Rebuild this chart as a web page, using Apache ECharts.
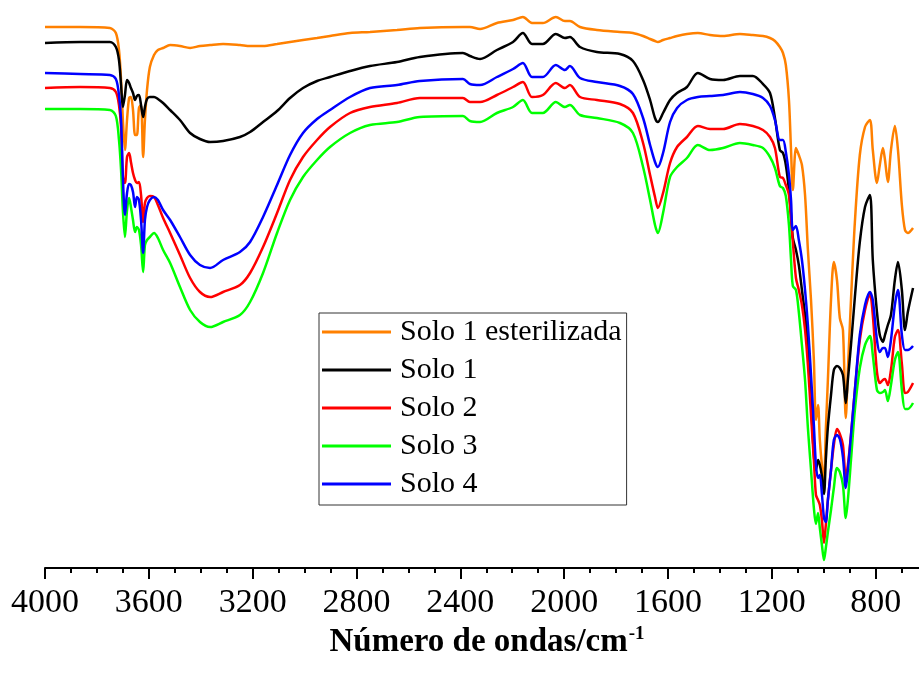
<!DOCTYPE html>
<html>
<head>
<meta charset="utf-8">
<title>FTIR Solos</title>
<script src="https://cdn.jsdelivr.net/npm/echarts@6/dist/echarts.min.js"></script>
<style>
  html, body { margin: 0; padding: 0; background: #fff; }
  #chartDIV { width: 919px; height: 674px; }
</style>
</head>
<body>
<div id="chartDIV"></div>
<script>
// número de ondas (cm-1), comum a todas as curvas
const wavenumbers = [
  4000, 3865, 3750, 3727, 3715, 3707, 3700, 3692, 3684, 3676,
  3669, 3661, 3653, 3646, 3638, 3630, 3622, 3615, 3607, 3596,
  3580, 3565, 3545, 3518, 3480, 3441, 3403, 3364, 3314, 3249,
  3210, 3160, 3106, 3056, 3006, 2952, 2902, 2825, 2748, 2644,
  2556, 2390, 2363, 2324, 2259, 2197, 2159, 2124, 2082, 2032,
  1997, 1978, 1939, 1874, 1785, 1735, 1696, 1669, 1650, 1639,
  1619, 1592, 1565, 1527, 1485, 1438, 1388, 1323, 1273, 1234,
  1207, 1188, 1169, 1157, 1146, 1134, 1126, 1119, 1107, 1096,
  1084, 1072, 1061, 1049, 1038, 1030, 1022, 1015, 1007, 999,
  992, 984, 972, 961, 949, 938, 926, 915, 907, 895,
  880, 861, 841, 822, 811, 795, 784, 772, 764, 753,
  741, 726, 714, 699, 687, 676, 656
];

// transmitância (u.a., curvas deslocadas)
const solo1Esterilizada = [
  108.2, 108.2, 108.0, 107.0, 103.6, 97.6, 89.6, 83.6, 89.6, 94.0,
  94.2, 91.6, 86.6, 86.6, 92.0, 92.6, 82.2, 89.6, 95.6, 100.2,
  102.6, 103.6, 104.0, 104.6, 104.4, 104.0, 104.4, 104.6, 104.8, 104.6,
  104.4, 104.4, 104.8, 105.2, 105.6, 106.0, 106.4, 107.0, 107.2, 107.6,
  108.0, 108.2, 108.2, 107.8, 109.0, 109.6, 110.2, 109.0, 109.0, 110.2,
  109.4, 109.4, 108.2, 107.6, 107.2, 107.0, 106.4, 105.8, 105.4, 105.2,
  105.6, 106.0, 106.4, 106.8, 107.0, 106.6, 106.4, 106.8, 106.6, 106.4,
  106.0, 105.4, 104.2, 103.0, 100.6, 93.6, 83.6, 75.6, 84.0, 82.6,
  80.6, 74.6, 63.6, 53.6, 41.6, 29.6, 32.6, 25.6, 20.6, 17.6,
  27.6, 37.6, 53.6, 61.2, 57.6, 50.0, 47.6, 30.0, 39.6, 53.6,
  69.2, 82.6, 88.2, 89.6, 83.6, 77.0, 80.6, 84.0, 81.6, 77.2,
  83.6, 88.4, 83.6, 72.6, 67.6, 67.0, 68.0
];
const solo1 = [
  105.0, 105.2, 105.2, 104.2, 101.6, 96.6, 92.2, 94.6, 97.6, 97.0,
  96.0, 95.0, 93.6, 94.4, 94.6, 92.6, 90.2, 92.2, 93.8, 94.2,
  94.2, 93.8, 93.0, 91.6, 89.6, 87.0, 85.8, 85.2, 85.4, 86.2,
  87.2, 89.2, 91.4, 94.0, 96.0, 97.4, 98.2, 99.4, 100.4, 101.2,
  102.2, 103.0, 102.4, 101.8, 103.6, 105.2, 107.0, 104.8, 104.8, 106.8,
  106.0, 106.2, 104.2, 103.2, 102.8, 101.4, 97.6, 93.6, 90.0, 89.2,
  91.0, 93.6, 95.0, 96.2, 99.0, 97.8, 97.6, 98.4, 98.4, 96.8,
  95.0, 90.0, 83.6, 83.0, 80.6, 75.6, 70.6, 66.0, 63.6, 60.6,
  55.6, 50.6, 44.6, 33.6, 22.6, 19.6, 21.6, 20.6, 18.4, 14.8,
  21.6, 28.2, 34.6, 39.6, 40.4, 40.0, 38.6, 33.0, 37.6, 44.6,
  54.2, 65.2, 72.2, 74.6, 61.6, 51.2, 46.6, 45.2, 46.6, 48.6,
  50.6, 57.6, 61.2, 55.6, 47.6, 51.2, 56.0
];
const solo2 = [
  96.0, 96.2, 96.0, 95.2, 92.6, 88.2, 78.2, 77.0, 82.2, 83.0,
  81.2, 79.0, 77.6, 77.0, 77.2, 74.6, 69.2, 73.0, 74.0, 74.4,
  74.2, 72.6, 70.0, 67.0, 62.6, 58.0, 55.2, 54.2, 55.2, 56.6,
  59.0, 64.2, 71.0, 77.6, 82.2, 85.6, 88.2, 91.0, 92.2, 93.0,
  94.0, 94.0, 93.2, 93.2, 94.6, 96.2, 97.2, 94.2, 94.6, 97.0,
  96.0, 96.6, 94.2, 93.6, 92.8, 91.0, 85.0, 78.6, 74.2, 72.0,
  75.0, 81.0, 84.2, 86.2, 88.4, 87.8, 87.8, 88.8, 88.4, 87.6,
  86.2, 84.0, 78.2, 78.0, 76.6, 74.6, 69.6, 65.2, 58.0, 55.6,
  52.6, 47.6, 40.6, 30.6, 21.6, 14.6, 13.6, 12.6, 9.6, 5.0,
  8.6, 13.6, 19.6, 24.6, 27.8, 26.8, 24.6, 18.0, 20.6, 26.6,
  35.6, 45.6, 51.6, 54.8, 50.6, 39.2, 37.0, 37.6, 37.8, 36.6,
  39.6, 46.2, 47.6, 40.8, 35.0, 35.2, 37.0
];
const solo3 = [
  91.8, 91.8, 91.6, 90.4, 85.6, 79.6, 71.6, 66.2, 71.6, 74.0,
  72.2, 69.6, 67.2, 68.2, 67.6, 64.6, 59.2, 64.6, 65.6, 66.2,
  67.0, 66.0, 63.6, 61.0, 56.2, 51.6, 49.2, 48.2, 49.2, 50.6,
  53.2, 59.0, 67.0, 73.6, 78.2, 81.6, 84.2, 87.0, 88.6, 89.2,
  90.2, 90.4, 89.4, 89.2, 91.0, 92.2, 93.6, 91.0, 91.0, 93.2,
  92.2, 92.6, 90.6, 90.0, 89.0, 87.0, 80.2, 73.6, 68.6, 67.0,
  71.0, 78.2, 80.2, 82.0, 84.6, 83.6, 84.0, 85.0, 84.6, 84.0,
  82.2, 80.0, 76.4, 76.0, 74.4, 68.6, 61.6, 56.4, 55.6, 51.2,
  44.6, 37.6, 28.0, 19.6, 12.0, 8.8, 11.0, 8.0, 4.6, 1.6,
  4.0, 7.2, 11.6, 16.0, 20.0, 19.2, 16.6, 10.0, 13.6, 21.6,
  31.6, 40.0, 44.6, 46.4, 42.6, 35.6, 35.0, 35.2, 35.6, 33.4,
  36.6, 41.6, 43.2, 35.6, 31.8, 31.8, 33.0
];
const solo4 = [
  99.0, 98.8, 98.6, 97.8, 94.6, 89.6, 78.2, 70.6, 75.0, 76.8,
  76.6, 75.2, 72.2, 74.2, 73.6, 69.6, 63.0, 69.6, 72.2, 73.6,
  74.2, 73.6, 71.6, 69.6, 66.2, 62.6, 60.6, 60.0, 61.6, 63.2,
  65.2, 70.2, 76.6, 82.6, 87.0, 89.8, 91.6, 94.2, 96.0, 96.6,
  97.4, 97.8, 96.8, 96.6, 98.2, 99.8, 101.0, 98.2, 98.2, 100.6,
  99.6, 100.4, 98.0, 97.2, 96.4, 94.8, 90.0, 84.6, 81.2, 80.2,
  83.0, 89.2, 92.0, 93.6, 94.2, 94.4, 94.6, 95.2, 94.8, 94.0,
  92.4, 89.6, 85.6, 85.6, 83.2, 78.6, 73.6, 67.6, 68.4, 65.6,
  61.6, 55.6, 48.6, 38.6, 28.6, 20.6, 18.0, 18.6, 14.8, 10.0,
  9.2, 13.6, 19.6, 25.6, 26.6, 25.8, 22.2, 16.0, 19.6, 26.6,
  35.6, 46.6, 52.6, 55.2, 53.6, 45.6, 43.2, 44.0, 44.0, 42.2,
  45.6, 52.6, 55.6, 46.6, 43.6, 43.6, 44.4
];

const seriesNames = ['Solo 1 esterilizada', 'Solo 1', 'Solo 2', 'Solo 3', 'Solo 4'];
const seriesColors = ['#FF8000', '#000000', '#FF0000', '#00FF00', '#0000FF'];
const seriesValues = [solo1Esterilizada, solo1, solo2, solo3, solo4];

// marcas do eixo x
const majorTicks = [4000, 3600, 3200, 2800, 2400, 2000, 1600, 1200, 800];
const minorTicks = [];
for (let w = 4000; w >= 700; w -= 100) minorTicks.push(w);

const serif = '"Liberation Serif", "Times New Roman", serif';

const chart = echarts.init(document.getElementById('chartDIV'));

const option = {
  animation: false,
  backgroundColor: '#fff',
  grid: { left: 45, right: 0, top: 8, bottom: 106 },
  legend: {
    orient: 'vertical',
    left: 319,
    top: 313,
    data: seriesNames,
    icon: 'rect',
    itemWidth: 69,
    itemHeight: 3,
    itemGap: 8,
    padding: [4, 5, 6, 3],
    borderColor: '#333',
    borderWidth: 1,
    borderRadius: 0,
    textStyle: {
      fontFamily: serif,
      fontSize: 30,
      color: '#000',
      lineHeight: 30,
      padding: [0, 0, 0, 4]
    }
  },
  xAxis: [{
    type: 'value',
    inverse: true,
    min: 633,
    max: 4000,
    name: '{a|Número de ondas/cm}{b|-1}',
    nameLocation: 'middle',
    nameGap: 43,
    nameTextStyle: {
      padding: [0, 0, 0, 10],
      rich: {
        a: { fontFamily: serif, fontSize: 33, fontWeight: 'bold', color: '#000' },
        b: { fontFamily: serif, fontSize: 19, fontWeight: 'bold', color: '#000', verticalAlign: 'top', padding: [0, 0, 16, 1] }
      }
    },
    splitLine: { show: false },
    axisLine: { show: true, onZero: false, lineStyle: { color: '#000', width: 2 } },
    axisTick: { show: true, inside: false, length: 11, lineStyle: { color: '#000', width: 2 }, customValues: majorTicks },
    axisLabel: {
      show: true,
      margin: 18,
      fontFamily: serif,
      fontSize: 34,
      color: '#000',
      customValues: majorTicks,
      formatter: (v) => String(v)
    }
  }, {
    // segundo eixo só para as marcas menores
    type: 'value',
    inverse: true,
    min: 633,
    max: 4000,
    position: 'bottom',
    splitLine: { show: false },
    axisLine: { show: false, onZero: false },
    axisTick: { show: true, inside: false, length: 5, lineStyle: { color: '#000', width: 2 }, customValues: minorTicks },
    axisLabel: { show: false }
  }],
  yAxis: {
    type: 'value',
    min: 0,
    max: 112,
    show: false
  },
  series: seriesNames.map((name, i) => ({
    name: name,
    type: 'line',
    symbol: 'none',
    smooth: 0.3,
    color: seriesColors[i],
    lineStyle: { width: 2.5, color: seriesColors[i] },
    data: wavenumbers.map((w, j) => [w, seriesValues[i][j]])
  }))
};

chart.setOption(option);
</script>
</body>
</html>
